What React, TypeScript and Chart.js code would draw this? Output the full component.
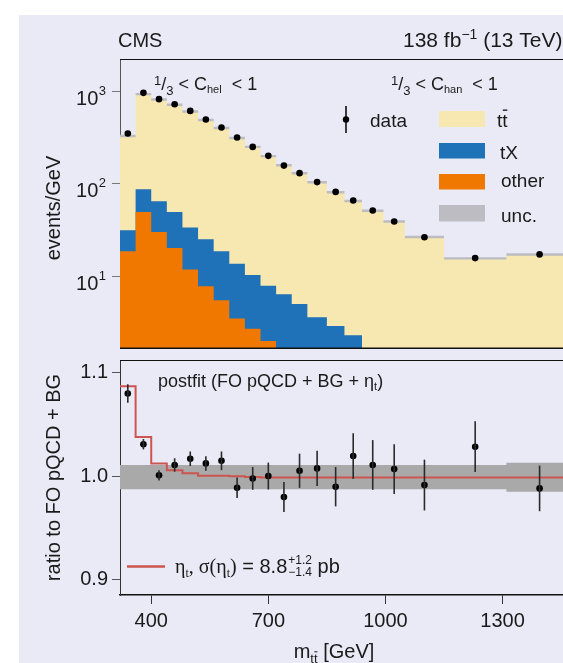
import React, { useEffect, useRef } from 'react';
import { Chart, registerables } from 'chart.js';
Chart.register(...registerables);

// ---------- data ----------
const binEdges = [320, 360, 400, 440, 480, 520, 560, 600, 640, 680, 720, 760, 800, 850, 895, 940, 995, 1050, 1150, 1310, 1480];
const dataEvents = [349, 959, 820, 723, 612, 494, 405, 316, 250, 200, 157, 130, 104, 81.5, 65.8, 51.3, 39.0, 26.4, 15.7, 17.2];
const ttbarEvents = [296, 843, 750, 665, 571, 463, 381, 298, 240, 191, 152, 125, 100, 78, 62.7, 51, 39, 26.5, 15.6, 17.2];
const tXEvents = [12.8, 37.8, 34.6, 29.3, 21.8, 17.3, 13.1, 10.1, 7.6, 5.9, 6.4, 5.0, 3.6, 2.9, 2.3, 0, 0, 0, 0, 0];
const otherEvents = [18.6, 49.5, 30.1, 20.2, 11.8, 7.8, 5.5, 3.5, 2.7, 2.0, 0, 0, 0, 0, 0, 0, 0, 0, 0, 0];
const uncFraction = [0.03, 0.03, 0.03, 0.03, 0.03, 0.03, 0.03, 0.03, 0.03, 0.03, 0.03, 0.03, 0.03, 0.03, 0.03, 0.03, 0.03, 0.03, 0.03, 0.03];

const dataRatio = [1.080, 1.031, 1.001, 1.011, 1.017, 1.0125, 1.015, 0.989, 0.998, 1.0003, 0.980, 1.0054, 1.0077, 0.990, 1.0196, 1.011, 1.007, 0.9916, 1.0286, 0.9884];
const dataRatioErr = [0.009, 0.005, 0.005, 0.0065, 0.007, 0.007, 0.009, 0.01, 0.011, 0.013, 0.0145, 0.0165, 0.017, 0.019, 0.022, 0.024, 0.024, 0.0245, 0.0245, 0.022];
const etaRatio = [1.087, 1.038, 1.0125, 1.006, 1.003, 1.0006, 1.0006, 1.0, 0.9995, 0.999, 0.999, 0.999, 0.999, 0.999, 0.999, 0.999, 0.999, 0.999, 0.999, 0.999];
const uncRatioCenter = 0.9992;
const uncRatioHalf = [0.0117, 0.0117, 0.0117, 0.0117, 0.0117, 0.0117, 0.0117, 0.0117, 0.0117, 0.0117, 0.0117, 0.0117, 0.0117, 0.0117, 0.0117, 0.0117, 0.0117, 0.0117, 0.0117, 0.014];

const xTicks = [400, 700, 1000, 1300];
const ratioTicks = [0.9, 1.0, 1.1];
const logTicks = [10, 100, 1000];

// ---------- helpers ----------
const SANS = '"Liberation Sans", Arial, sans-serif';
const SERIF = '"Liberation Serif", "DejaVu Serif", serif';
const C_BG = '#e9eaf5';
const C_TT = '#f7e7b0';
const C_TX = '#1f72b8';
const C_OTHER = '#f07800';
const C_UNC = '#bcbcc2';
const C_TEXT = '#1a1a1a';

const centers = binEdges.slice(0, -1).map((e, i) => (e + binEdges[i + 1]) / 2);

function stepPoints(vals: number[]) {
  const pts: { x: number; y: number }[] = [];
  let last = -1;
  vals.forEach((v, i) => {
    if (v > 0) {
      pts.push({ x: binEdges[i], y: v });
      last = i;
    }
  });
  if (last >= 0) pts.push({ x: binEdges[last + 1], y: vals[last] });
  return pts;
}

type Run = { t: string; size: number; dy?: number; serif?: boolean; overline?: boolean };
function runFont(r: Run) {
  return `${r.size}px ${r.serif ? SERIF : SANS}`;
}
function runsWidth(ctx: CanvasRenderingContext2D, runs: Run[]) {
  let w = 0;
  runs.forEach((r) => {
    ctx.font = runFont(r);
    w += ctx.measureText(r.t).width;
  });
  return w;
}
function drawRuns(ctx: CanvasRenderingContext2D, runs: Run[], x: number, y: number) {
  ctx.textAlign = 'left';
  ctx.textBaseline = 'alphabetic';
  runs.forEach((r) => {
    ctx.font = runFont(r);
    const w = ctx.measureText(r.t).width;
    ctx.fillText(r.t, x, y + (r.dy || 0));
    if (r.overline) {
      const oy = y + (r.dy || 0) - r.size * 0.86;
      ctx.save();
      ctx.lineWidth = Math.max(1, r.size / 14);
      ctx.strokeStyle = ctx.fillStyle as string;
      ctx.beginPath();
      ctx.moveTo(x + w * 0.1, oy);
      ctx.lineTo(x + w * 0.95, oy);
      ctx.stroke();
      ctx.restore();
    }
    x += w;
  });
  return x;
}

function paintBg(chart: any, offsetY: number) {
  const ctx: CanvasRenderingContext2D = chart.ctx;
  ctx.save();
  ctx.fillStyle = '#ffffff';
  ctx.fillRect(0, 0, chart.width, chart.height);
  ctx.fillStyle = C_BG;
  const top = Math.max(0, 15 - offsetY);
  ctx.fillRect(19, top, chart.width - 19, chart.height - top);
  ctx.restore();
}

// ---------- top panel plugin ----------
const topPlugin = {
  id: 'topDeco',
  beforeDraw(chart: any) {
    paintBg(chart, 0);
  },
  afterDraw(chart: any) {
    const ctx: CanvasRenderingContext2D = chart.ctx;
    const { left, right, top, bottom } = chart.chartArea;
    const ys = chart.scales.y;
    ctx.save();
    // frame
    ctx.strokeStyle = '#111';
    ctx.lineWidth = 1;
    ctx.beginPath();
    ctx.moveTo(left, top + 0.5);
    ctx.lineTo(right, top + 0.5);
    ctx.stroke();
    ctx.lineWidth = 1.5;
    ctx.beginPath();
    ctx.moveTo(left, bottom + 0.25);
    ctx.lineTo(right, bottom + 0.25);
    ctx.stroke();

    ctx.fillStyle = C_TEXT;
    // y tick labels 10^n
    logTicks.forEach((v) => {
      const py = ys.getPixelForValue(v);
      const exp = String(Math.round(Math.log10(v)));
      ctx.font = `13px ${SANS}`;
      ctx.textAlign = 'right';
      ctx.textBaseline = 'alphabetic';
      const ew = ctx.measureText(exp).width;
      ctx.fillText(exp, 106, py + 3.5);
      ctx.font = `20px ${SANS}`;
      ctx.fillText('10', 106 - ew - 0.5, py + 13.5);
    });

    // axis title
    ctx.save();
    ctx.translate(60, 208);
    ctx.rotate(-Math.PI / 2);
    ctx.font = `20px ${SANS}`;
    ctx.textAlign = 'center';
    ctx.textBaseline = 'alphabetic';
    ctx.fillText('events/GeV', 0, 0);
    ctx.restore();

    // header
    drawRuns(ctx, [{ t: 'CMS', size: 20 }], 118, 46.5);
    drawRuns(ctx, [{ t: '138 fb', size: 21 }, { t: '\u22121', size: 14, dy: -8 }, { t: ' (13 TeV)', size: 21 }], 403, 46.5);

    // selection labels
    const frac = (name: string): Run[] => [
      { t: '1', size: 13, dy: -5 },
      { t: '/', size: 18 },
      { t: '3', size: 13, dy: 5 },
      { t: ' < C', size: 18 },
      { t: name, size: 11, dy: 3 },
      { t: '  < 1', size: 18 },
    ];
    drawRuns(ctx, frac('hel'), 154, 90);
    drawRuns(ctx, frac('han'), 391, 90);

    // legend
    ctx.strokeStyle = '#000';
    ctx.lineWidth = 1.5;
    ctx.beginPath();
    ctx.moveTo(346, 106);
    ctx.lineTo(346, 133);
    ctx.stroke();
    ctx.fillStyle = '#000';
    ctx.beginPath();
    ctx.arc(346, 119.5, 3.2, 0, Math.PI * 2);
    ctx.fill();
    ctx.fillStyle = C_TEXT;
    drawRuns(ctx, [{ t: 'data', size: 19 }], 370, 126.5);

    const sw = [
      { c: C_TT, y: 111, h: 16 },
      { c: C_TX, y: 143, h: 15.5 },
      { c: C_OTHER, y: 174, h: 15.5 },
      { c: C_UNC, y: 205, h: 16.5 },
    ];
    sw.forEach((s) => {
      ctx.fillStyle = s.c;
      ctx.fillRect(439, s.y, 46, s.h);
    });
    ctx.fillStyle = C_TEXT;
    drawRuns(ctx, [{ t: 't', size: 19 }, { t: 't', size: 19, overline: true }], 497, 126.5);
    drawRuns(ctx, [{ t: 'tX', size: 19 }], 500, 158.5);
    drawRuns(ctx, [{ t: 'other', size: 19 }], 501, 186.5);
    drawRuns(ctx, [{ t: 'unc.', size: 19 }], 501, 221.5);
    ctx.restore();
  },
};

// ---------- ratio panel plugin ----------
const ratioPlugin = {
  id: 'ratioDeco',
  beforeDraw(chart: any) {
    paintBg(chart, 350);
  },
  afterDatasetsDraw(chart: any) {
    const ctx: CanvasRenderingContext2D = chart.ctx;
    const xs = chart.scales.x;
    const ys = chart.scales.y;
    ctx.save();
    ctx.strokeStyle = '#2a2a2a';
    ctx.lineWidth = 1.6;
    dataRatio.forEach((v, i) => {
      const px = xs.getPixelForValue(centers[i]);
      ctx.beginPath();
      ctx.moveTo(px, ys.getPixelForValue(v + dataRatioErr[i]));
      ctx.lineTo(px, ys.getPixelForValue(v - dataRatioErr[i]));
      ctx.stroke();
    });
    ctx.restore();
  },
  afterDraw(chart: any) {
    const ctx: CanvasRenderingContext2D = chart.ctx;
    const { left, right, top } = chart.chartArea;
    ctx.save();
    ctx.strokeStyle = '#111';
    ctx.lineWidth = 1;
    ctx.beginPath();
    ctx.moveTo(left, top + 0.5);
    ctx.lineTo(right, top + 0.5);
    ctx.stroke();

    ctx.fillStyle = C_TEXT;
    drawRuns(ctx, [
      { t: 'postfit (FO pQCD + BG + \u03b7', size: 18 },
      { t: 't', size: 11, dy: 3 },
      { t: ')', size: 18 },
    ], 158, 37);

    // legend for eta_t
    ctx.strokeStyle = '#cc5550';
    ctx.lineWidth = 2.5;
    ctx.beginPath();
    ctx.moveTo(127, 216.5);
    ctx.lineTo(165, 216.5);
    ctx.stroke();
    ctx.fillStyle = C_TEXT;
    let x = drawRuns(ctx, [
      { t: '\u03b7', size: 20, serif: true },
      { t: 't', size: 12, dy: 4, serif: true },
      { t: ', \u03c3(\u03b7', size: 20, serif: true },
      { t: 't', size: 12, dy: 4, serif: true },
      { t: ')', size: 20, serif: true },
      { t: ' = 8.8', size: 20 },
    ], 175, 222.5);
    ctx.font = `12px ${SANS}`;
    ctx.fillText('+1.2', x + 1, 222.5 - 9);
    ctx.fillText('\u22121.4', x + 1, 222.5 + 3);
    x += ctx.measureText('\u22121.4').width + 1;
    drawRuns(ctx, [{ t: ' pb', size: 20 }], x, 222.5);

    // y title
    ctx.save();
    ctx.translate(59.5, 127.5);
    ctx.rotate(-Math.PI / 2);
    ctx.font = `20px ${SANS}`;
    ctx.textAlign = 'center';
    ctx.textBaseline = 'alphabetic';
    ctx.fillText('ratio to FO pQCD + BG', 0, 0);
    ctx.restore();

    // x title
    const runs: Run[] = [
      { t: 'm', size: 20 },
      { t: 't', size: 13, dy: 5 },
      { t: 't', size: 13, dy: 5, overline: true },
      { t: ' [GeV]', size: 20 },
    ];
    const w = runsWidth(ctx, runs);
    drawRuns(ctx, runs, 334 - w / 2, 308);
    ctx.restore();
  },
};

export default function App() {
  const topRef = useRef<HTMLCanvasElement>(null);
  const botRef = useRef<HTMLCanvasElement>(null);

  useEffect(() => {
    const stackTX = tXEvents.map((v, i) => (v > 0 ? v + otherEvents[i] : 0));
    const total = ttbarEvents.map((v, i) => v + tXEvents[i] + otherEvents[i]);
    const uncHi = total.map((v, i) => v * (1 + uncFraction[i]));
    const uncLo = total.map((v, i) => v * (1 - uncFraction[i]));

    const common = {
      responsive: false,
      animation: false as const,
      events: [] as any[],
      plugins: { legend: { display: false }, tooltip: { enabled: false } },
    };

    const top = new Chart(topRef.current!, {
      type: 'line',
      data: {
        datasets: [
          {
            data: dataEvents.map((v, i) => ({ x: centers[i], y: v })),
            showLine: false,
            pointRadius: 3.3,
            pointBackgroundColor: '#000',
            pointBorderWidth: 0,
            order: 0,
          },
          {
            data: stepPoints(otherEvents),
            stepped: true,
            borderWidth: 0,
            pointRadius: 0,
            backgroundColor: C_OTHER,
            fill: 'start',
            order: 1,
          },
          {
            data: stepPoints(stackTX),
            stepped: true,
            borderWidth: 0,
            pointRadius: 0,
            backgroundColor: C_TX,
            fill: 'start',
            order: 2,
          },
          {
            data: stepPoints(uncHi),
            stepped: true,
            borderWidth: 0,
            pointRadius: 0,
            backgroundColor: C_UNC,
            fill: '+1',
            order: 3,
          },
          {
            data: stepPoints(uncLo),
            stepped: true,
            borderWidth: 0,
            pointRadius: 0,
            fill: false,
            order: 4,
          },
          {
            data: stepPoints(total),
            stepped: true,
            borderWidth: 0,
            pointRadius: 0,
            backgroundColor: C_TT,
            fill: 'start',
            order: 5,
          },
        ],
      } as any,
      options: {
        ...common,
        layout: { autoPadding: false, padding: { top: 59, right: 0, bottom: 2, left: 0 } },
        scales: {
          x: { type: 'linear', min: 320, max: 1455, display: false },
          y: {
            type: 'logarithmic',
            min: 1.675,
            max: 2228,
            afterBuildTicks: (s: any) => {
              s.ticks = logTicks.map((v) => ({ value: v }));
            },
            afterFit: (s: any) => {
              s.width = 120;
            },
            ticks: { callback: () => '', autoSkip: false, padding: 0, font: { size: 1, lineHeight: 0.1 } },
            grid: { drawOnChartArea: false, drawTicks: true, tickLength: 8, color: '#777', lineWidth: 1 },
            border: { display: true, color: '#555', width: 1 },
          },
        },
      } as any,
      plugins: [topPlugin],
    });

    const bot = new Chart(botRef.current!, {
      type: 'line',
      data: {
        datasets: [
          {
            data: dataRatio.map((v, i) => ({ x: centers[i], y: v })),
            showLine: false,
            pointRadius: 3.3,
            pointBackgroundColor: '#000',
            pointBorderWidth: 0,
            order: 0,
          },
          {
            data: stepPoints(etaRatio),
            stepped: true,
            borderWidth: 2,
            borderColor: '#cc5550',
            pointRadius: 0,
            fill: false,
            order: 1,
          },
          {
            data: stepPoints(uncRatioHalf.map((h) => uncRatioCenter + h)),
            stepped: true,
            borderWidth: 0,
            pointRadius: 0,
            backgroundColor: '#a9a9aa',
            fill: '+1',
            order: 2,
          },
          {
            data: stepPoints(uncRatioHalf.map((h) => uncRatioCenter - h)),
            stepped: true,
            borderWidth: 0,
            pointRadius: 0,
            fill: false,
            order: 3,
          },
        ],
      } as any,
      options: {
        ...common,
        layout: { autoPadding: false, padding: { top: 10, right: 0, bottom: 0, left: 0 } },
        scales: {
          x: {
            type: 'linear',
            min: 320,
            max: 1455,
            afterBuildTicks: (s: any) => {
              s.ticks = xTicks.map((v) => ({ value: v }));
            },
            afterFit: (s: any) => {
              s.height = 68;
            },
            ticks: {
              autoSkip: false,
              maxRotation: 0,
              padding: 5,
              color: C_TEXT,
              font: { family: SANS, size: 20 },
              callback: (v: any) => String(v),
            },
            grid: { drawOnChartArea: false, drawTicks: true, tickLength: 9, color: '#333' },
            border: { display: true, color: '#111', width: 1.5 },
          },
          y: {
            type: 'linear',
            min: 0.8855,
            max: 1.1123,
            afterBuildTicks: (s: any) => {
              s.ticks = ratioTicks.map((v) => ({ value: v }));
            },
            afterFit: (s: any) => {
              s.width = 120;
            },
            ticks: {
              autoSkip: false,
              padding: 4,
              color: C_TEXT,
              font: { family: SANS, size: 20, lineHeight: 0.3 },
              callback: (v: any) => Number(v).toFixed(1),
            },
            grid: { drawOnChartArea: false, drawTicks: true, tickLength: 8, color: '#555' },
            border: { display: true, color: '#333', width: 1 },
          },
        },
      } as any,
      plugins: [ratioPlugin],
    });

    return () => {
      top.destroy();
      bot.destroy();
    };
  }, []);

  return (
    <div style={{ position: 'absolute', left: 0, top: 0, width: 563, height: 663, background: C_BG, overflow: 'hidden' }}>
      <canvas ref={topRef} width={563} height={350} style={{ position: 'absolute', left: 0, top: 0, display: 'block' }} />
      <canvas ref={botRef} width={563} height={313} style={{ position: 'absolute', left: 0, top: 350, display: 'block' }} />
    </div>
  );
}
